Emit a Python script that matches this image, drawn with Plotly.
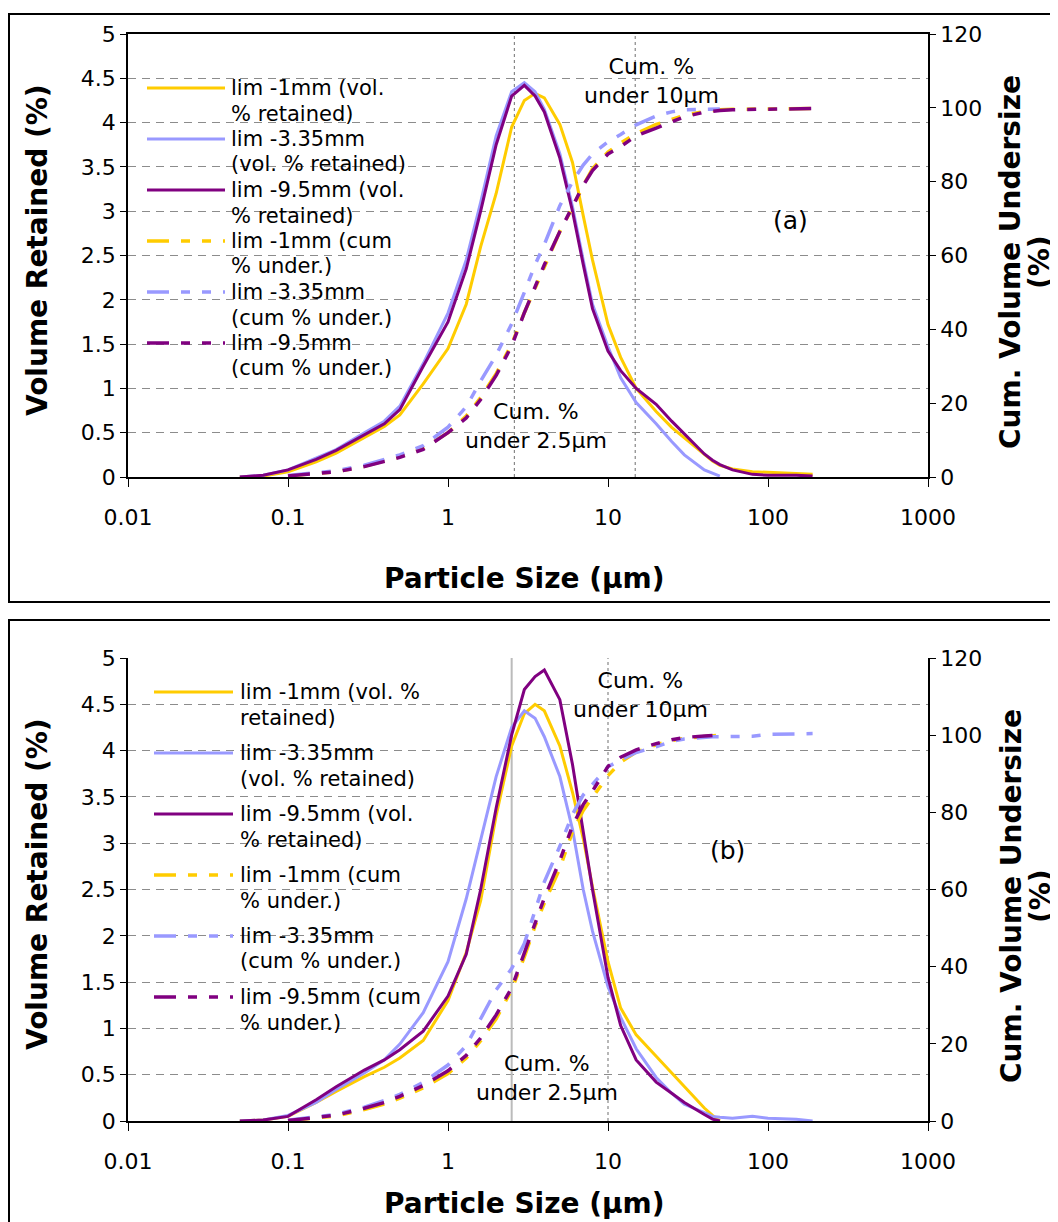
import plotly.graph_objects as go

# ---- data ----
size_um = [0.05, 0.07, 0.1, 0.15, 0.2, 0.3, 0.4, 0.5, 0.7, 1, 1.3, 1.6, 2, 2.5, 3, 3.5, 4,
           5, 6, 7, 8, 10, 12, 15, 20, 25, 30, 40, 45, 50, 60, 80, 100, 150, 190]

# panel (a): volume % retained
vol_1mm_a = [0, 0.01, 0.06, 0.17, 0.27, 0.44, 0.57, 0.70, 1.05, 1.45, 1.95, 2.6, 3.2, 3.95, 4.25, 4.33, 4.28,
             3.98, 3.55, 2.95, 2.45, 1.72, 1.35, 1.0, 0.74, 0.56, 0.44, 0.26, 0.18, 0.13, 0.09, 0.06, 0.05, 0.04, 0.03]
vol_335mm_a = [0, 0.02, 0.08, 0.21, 0.31, 0.50, 0.63, 0.80, 1.28, 1.85, 2.45, 3.1, 3.85, 4.35, 4.45, 4.35, 4.15,
               3.65, 3.05, 2.45, 1.95, 1.47, 1.12, 0.84, 0.60, 0.40, 0.25, 0.08, 0.04, 0.01, None, None, None, None, None]
vol_95mm_a = [0, 0.02, 0.08, 0.20, 0.30, 0.48, 0.60, 0.76, 1.25, 1.75, 2.35, 3.0, 3.75, 4.3, 4.42, 4.3, 4.12,
              3.6, 3.0, 2.4, 1.9, 1.42, 1.2, 1.0, 0.82, 0.63, 0.49, 0.26, 0.19, 0.14, 0.08, 0.03, 0.02, 0.02, 0.01]
# panel (a): cumulative % undersize
cum_1mm_a = [None, None, 0.3, 0.9, 1.4, 2.9, 4.3, 5.5, 7.8, 12, 16.5, 21.5, 28, 36, 44.5, 51, 57,
             66.5, 73, 79, 83.5, 88, 90.5, 93, 95.5, 97, 98, 99, 99.3, 99.5, 99.6, 99.7, 99.8, 99.8, 99.8]
cum_335mm_a = [None, None, 0.4, 1.2, 1.7, 3.2, 4.7, 6.0, 8.5, 13.5, 19, 26, 33, 41.5, 50, 57.5, 63,
               73.5, 80, 84.5, 87.5, 90.8, 92.8, 95.4, 97.8, 98.9, 99.5, 99.6, 99.7, 99.7, None, None, None, None, None]
cum_95mm_a = [None, None, 0.3, 1.0, 1.4, 2.8, 4.2, 5.3, 7.5, 12, 16, 21, 27.5, 35.5, 44.5, 51.5, 57.5,
              66.5, 73.5, 79, 83, 87.5, 89.5, 92.4, 94.5, 96.3, 97.6, 98.8, 99.1, 99.3, 99.5, 99.6, 99.7, 99.8, 99.8]

# panel (b): volume % retained
vol_1mm_b = [0, 0.01, 0.05, 0.2, 0.32, 0.48, 0.58, 0.68, 0.87, 1.3, 1.82, 2.38, 3.3, 4.05, 4.4, 4.5, 4.43,
             4.05, 3.55, 3.05, 2.53, 1.72, 1.22, 0.93, 0.70, 0.52, 0.38, 0.14, 0.06, 0.0, None, None, None, None, None]
vol_335mm_b = [0, 0.01, 0.06, 0.2, 0.34, 0.52, 0.66, 0.83, 1.17, 1.72, 2.4, 3.05, 3.72, 4.25, 4.43, 4.35, 4.15,
               3.72, 3.15, 2.5, 2.05, 1.45, 1.12, 0.78, 0.47, 0.30, 0.18, 0.09, 0.05, 0.04, 0.03, 0.05, 0.03, 0.02, 0.0]
vol_95mm_b = [0, 0.01, 0.05, 0.23, 0.37, 0.55, 0.66, 0.77, 0.97, 1.35, 1.8, 2.5, 3.38, 4.17, 4.66, 4.8, 4.87,
              4.55, 3.85, 3.1, 2.5, 1.55, 1.03, 0.66, 0.42, 0.30, 0.20, 0.07, 0.02, 0.0, None, None, None, None, None]
# panel (b): cumulative % undersize
cum_1mm_b = [None, None, 0.1, 0.8, 1.3, 3.0, 4.4, 5.9, 8.6, 12.3, 16.3, 20.8, 26.5, 34, 42.5, 50.5, 56.5,
             65.5, 75, 80.5, 84, 89.5, 93, 95.6, 97.5, 98.6, 99.2, 99.7, 99.9, 100.0, None, None, None, None, None]
cum_335mm_b = [None, None, 0.2, 1.0, 1.7, 3.6, 5.3, 6.9, 10, 14.5, 19.5, 26.5, 34, 39.5, 46, 54.5, 62,
               71.2, 79.5, 84.5, 87.3, 91.8, 93.6, 95.5, 97.0, 98.4, 99.0, 99.5, 99.6, 99.6, 99.7, 99.7, 100.2, 100.4, 100.4]
cum_95mm_b = [None, None, 0.1, 0.9, 1.5, 3.3, 4.8, 6.4, 9.2, 13, 17, 21.5, 27.5, 34.5, 43.5, 51.5, 57.8,
              67.5, 76.5, 82, 85.5, 91.9, 94.3, 96.2, 97.8, 98.8, 99.4, 99.8, 99.9, None, None, None, None, None, None]

# cut-off lines (µm) marked on each panel
cutoffs_a = [2.6, 14.8]
cutoffs_b = [2.5, 10]

x_tickvals = [0.01, 0.1, 1, 10, 100, 1000]
x_ticktext = ["0.01", "0.1", "1", "10", "100", "1000"]

legend_a = [("lim -1mm (vol.", "% retained)"), ("lim -3.35mm", "(vol. % retained)"),
            ("lim -9.5mm (vol.", "% retained)"), ("lim -1mm (cum", "% under.)"),
            ("lim -3.35mm", "(cum % under.)"), ("lim -9.5mm", "(cum % under.)")]
legend_b = [("lim -1mm (vol. %", "retained)"), ("lim -3.35mm", "(vol. % retained)"),
            ("lim -9.5mm (vol.", "% retained)"), ("lim -1mm (cum", "% under.)"),
            ("lim -3.35mm", "(cum % under.)"), ("lim -9.5mm (cum", "% under.)")]

# ---- styling ----
YELLOW, BLUE, PURPLE = "#FFCC00", "#9999FF", "#800080"
CUM_DASH = "22px,12px,9px,12px,9px,12px"
FONT = "DejaVu Sans"
# page body has an 8px margin, so the figure is 8px smaller and positions are shifted
OFF = 8
W, H = 1058 - OFF, 1222 - OFF


def px(x):
    return (x - OFF) / W


def py(y):
    return 1 - (y - OFF) / H


fig = go.Figure()

panels = [
    ("x", "y", "y2", [vol_1mm_a, vol_335mm_a, vol_95mm_a], [cum_1mm_a, cum_335mm_a, cum_95mm_a], cutoffs_a, ["dot", "dot"]),
    ("x2", "y3", "y4", [vol_1mm_b, vol_335mm_b, vol_95mm_b], [cum_1mm_b, cum_335mm_b, cum_95mm_b], cutoffs_b, ["solid", "dot"]),
]
colors = [YELLOW, BLUE, PURPLE]

for xa, ya, ya2, vols, cums, cuts, cut_styles in panels:
    for c, style in zip(cuts, cut_styles):
        fig.add_trace(go.Scatter(
            x=[c, c], y=[0, 5], xaxis=xa, yaxis=ya, mode="lines", showlegend=False,
            line=dict(color="#BBBBBB" if style == "solid" else "#888888",
                      width=2 if style == "solid" else 1.2, dash=style)))
    for vals, col in zip(vols, colors):
        fig.add_trace(go.Scatter(x=size_um, y=vals, xaxis=xa, yaxis=ya, mode="lines",
                                 showlegend=False, line=dict(color=col, width=3)))
    for vals, col in zip(cums, colors):
        fig.add_trace(go.Scatter(x=size_um, y=vals, xaxis=xa, yaxis=ya2, mode="lines",
                                 showlegend=False, line=dict(color=col, width=3.5, dash=CUM_DASH)))

xcommon = dict(type="log", range=[-2, 3], tickvals=x_tickvals, ticktext=x_ticktext,
               ticks="outside", ticklen=8, tickcolor="black", showline=True, linecolor="black",
               linewidth=1.8, showgrid=False, ticklabelstandoff=12, automargin=False,
               tickfont=dict(family=FONT, size=22, color="black"))
yleft = dict(range=[0, 5], dtick=0.5, ticks="outside", ticklen=6, tickcolor="black",
             showline=True, linecolor="black", linewidth=1.5, showgrid=True,
             gridcolor="#8c8c8c", griddash="8px,6px", gridwidth=1, zeroline=False, automargin=False,
             tickfont=dict(family=FONT, size=22, color="black"))
yright = dict(range=[0, 120], dtick=20, ticks="outside", ticklen=6, tickcolor="black",
              showline=True, linecolor="black", linewidth=1.5, showgrid=False, zeroline=False,
              automargin=False, side="right", tickfont=dict(family=FONT, size=22, color="black"))

xdom = [px(128), px(928)]
fig.update_layout(
    width=W, height=H, margin=dict(l=0, r=0, t=0, b=0, autoexpand=False),
    paper_bgcolor="white", plot_bgcolor="white", showlegend=False,
    xaxis=dict(domain=xdom, anchor="y", mirror=True, **xcommon),
    yaxis=dict(domain=[py(477), py(34)], anchor="x", **yleft),
    yaxis2=dict(overlaying="y", anchor="x", **yright),
    xaxis2=dict(domain=xdom, anchor="y3", **xcommon),
    yaxis3=dict(domain=[py(1121), py(658)], anchor="x2", **yleft),
    yaxis4=dict(overlaying="y3", anchor="x2", **yright),
)

# ---- panel borders ----
for top, bottom in [(14, 602), (620, 1240)]:
    fig.add_shape(type="rect", xref="paper", yref="paper", x0=px(9), x1=px(1070),
                  y0=py(bottom), y1=py(top), line=dict(color="black", width=2), layer="below")

ann = []
txt = dict(family=FONT, size=21, color="black")
bold = dict(family=FONT, size=28, color="black")

# ---- hand-placed legends (long line samples like the original) ----
styles = [(YELLOW, "solid"), (BLUE, "solid"), (PURPLE, "solid"),
          (YELLOW, CUM_DASH), (BLUE, CUM_DASH), (PURPLE, CUM_DASH)]
for entries, y0, step, sx0, sx1, tx in [(legend_a, 88, 51, 147, 225, 229),
                                        (legend_b, 692, 61, 154, 233, 238)]:
    for i, ((l1, l2), (col, dash)) in enumerate(zip(entries, styles)):
        yy = y0 + i * step
        fig.add_shape(type="line", xref="paper", yref="paper", x0=px(sx0), x1=px(sx1),
                      y0=py(yy), y1=py(yy),
                      line=dict(color=col, width=3 if dash == "solid" else 3.5, dash=dash))
        for k, line in enumerate([l1, l2]):
            ann.append(dict(x=px(tx), y=py(yy + k * 25.5), xref="paper", yref="paper",
                            text=line, showarrow=False, xanchor="left", yanchor="middle", font=txt))

# ---- text labels ----
for text, x, y, size in [("Cum. %<br>under 10µm", 651, 81, 22), ("Cum. %<br>under 2.5µm", 536, 426, 22),
                         ("(a)", 790, 220, 25),
                         ("Cum. %<br>under 10µm", 640, 695, 22), ("Cum. %<br>under 2.5µm", 547, 1078, 22),
                         ("(b)", 727, 850, 25)]:
    ann.append(dict(x=px(x), y=py(y), xref="paper", yref="paper", text=text, showarrow=False,
                    xanchor="center", yanchor="middle", align="center", font=dict(txt, size=size)))

# ---- axis titles ----
for yl, yr, xt in [(250, 262, 578), (884, 896, 1203)]:
    ann.append(dict(x=px(37), y=py(yl), xref="paper", yref="paper", text="<b>Volume Retained (%)</b>",
                    textangle=-90, showarrow=False, xanchor="center", yanchor="middle", font=bold))
    ann.append(dict(x=px(524), y=py(xt), xref="paper", yref="paper", text="<b>Particle Size (µm)</b>",
                    showarrow=False, xanchor="center", yanchor="middle", font=bold))
    ann.append(dict(x=px(1011), y=py(yr), xref="paper", yref="paper",
                    text="<b>Cum. Volume Undersize</b>", textangle=-90, showarrow=False,
                    xanchor="center", yanchor="middle", font=bold))
    ann.append(dict(x=px(1040), y=py(yr), xref="paper", yref="paper",
                    text="<b>(%)</b>", textangle=-90, showarrow=False,
                    xanchor="center", yanchor="middle", font=bold))

fig.update_layout(annotations=ann)

fig.write_html("out.html")
